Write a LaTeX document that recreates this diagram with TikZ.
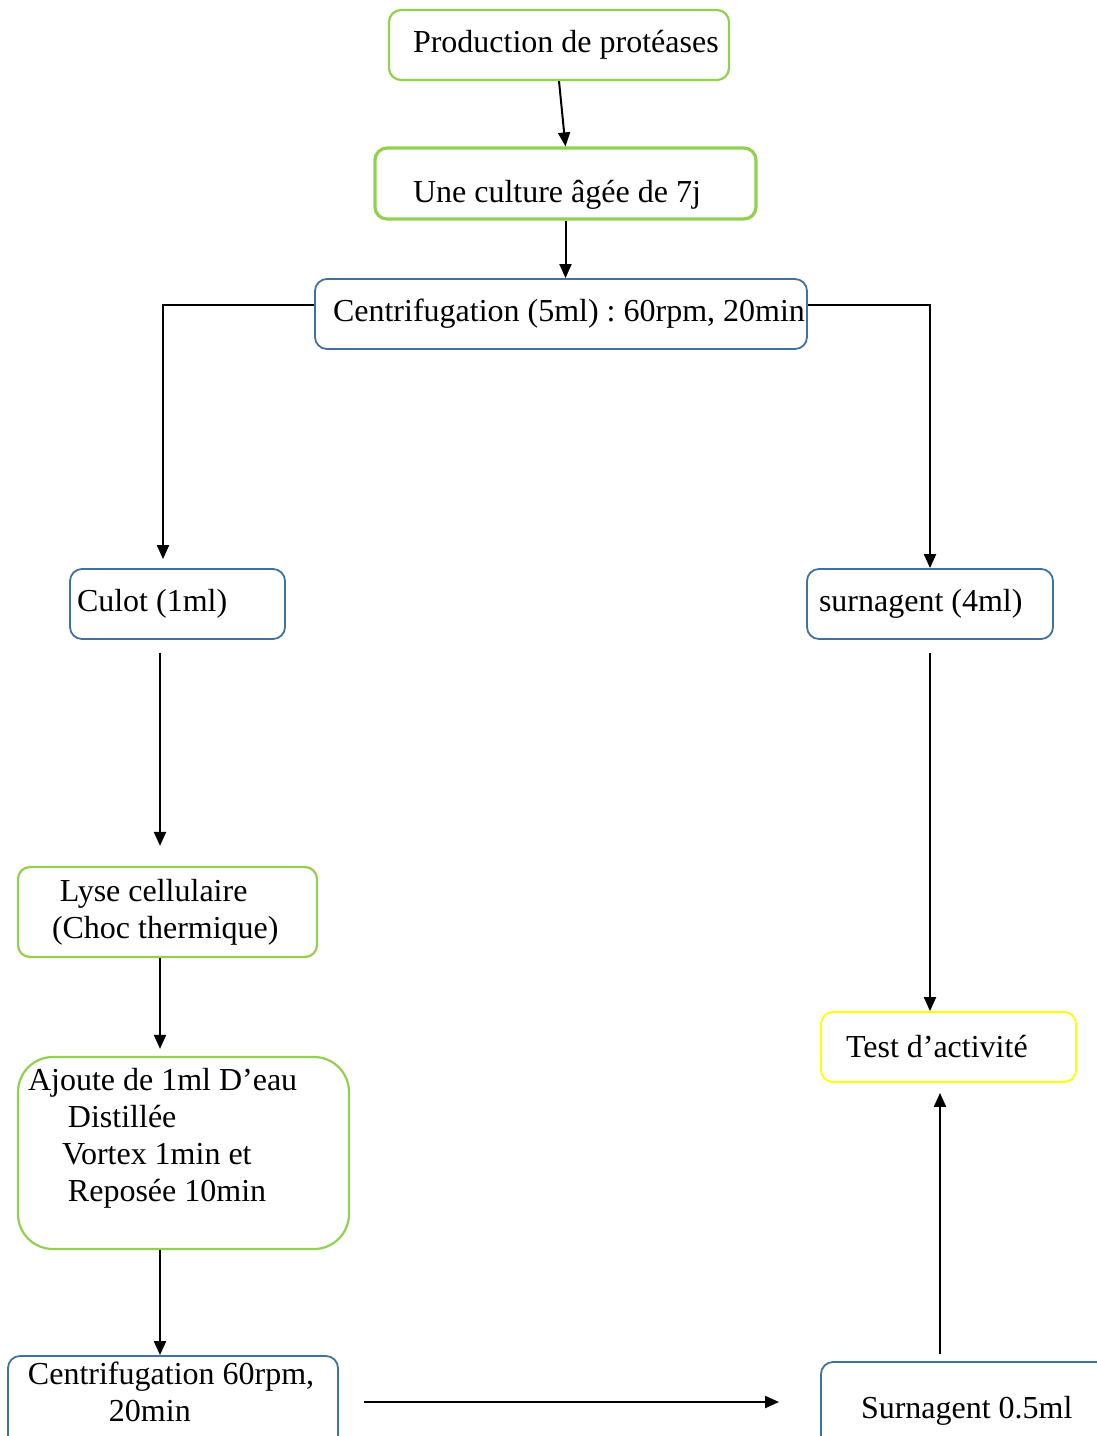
\documentclass[tikz,border=0pt]{standalone}
\usepackage{fontspec}
\setmainfont{Liberation Serif}
\usepackage{xcolor}
\usetikzlibrary{arrows.meta}
\definecolor{boxgreen}{HTML}{92D050}
\definecolor{boxblue}{HTML}{41719C}
\definecolor{boxyellow}{HTML}{FFFF00}

\begin{document}
\begin{tikzpicture}[x=1pt,y=-1pt,
  box/.style={draw, rounded corners=12pt, align=flush left, inner xsep=0pt, inner ysep=0pt,
    font=\fontsize{32}{37}\selectfont\frenchspacing},
  boxsize/.style 2 args={text width=#1pt, minimum height=#2pt},
  greenbox/.style={box, draw=boxgreen, line width=2.2pt},
  bluebox/.style={box, draw=boxblue, line width=1.8pt},
  yellowbox/.style={box, draw=boxyellow, line width=1.8pt},
  arr/.style={line width=2pt, -{Triangle[length=14pt,width=12pt]}}]
\useasboundingbox (0,0) rectangle (1097,1436);
\clip (0,0) rectangle (1097,1436);

\node[greenbox, boxsize={340}{70}] (prod) at (559,45) {\hspace*{24pt}Production de protéases};
\node[greenbox, line width=3.2pt, boxsize={381}{71}] (culture) at (565.5,183.5) {\rule{0pt}{44pt}\hspace*{38pt}Une culture âgée de 7j};
\node[bluebox, boxsize={492}{70}] (centri1) at (561,314) {\hspace*{18pt}Centrifugation (5ml) : 60rpm, 20min};
\node[bluebox, boxsize={215}{70}] (culot) at (177.5,604) {\hspace*{7pt}Culot (1ml)};
\node[bluebox, boxsize={246}{70}] (surn) at (930,604) {\hspace*{12pt}surnagent (4ml)};
\node[greenbox, boxsize={299}{90}] (lyse) at (167.5,912)
  {\hspace*{42pt}Lyse cellulaire\\ \hspace*{34pt}(Choc thermique)};
\node[greenbox, rounded corners=35pt, boxsize={331}{192}] (ajout) at (183.5,1153)
  {\hspace*{10pt}Ajoute de 1ml D’eau\\ \hspace*{50pt}Distillée\\ \hspace*{44pt}Vortex 1min et\\
   \hspace*{50pt}Reposée 10min\\ \mbox{}};
\node[bluebox, boxsize={330}{108}] (centri2) at (173,1410)
  {\hspace*{20pt}Centrifugation 60rpm,\\ \hspace*{101pt}20min\\ \mbox{}};
\node[yellowbox, boxsize={255}{70}] (test) at (948.5,1047) {\hspace*{25pt}Test d’activité};
\node[bluebox, boxsize={290}{98}] (surn05) at (966,1411) {\hspace*{40pt}Surnagent 0.5ml};

\draw[arr] (prod.south) -- (culture.north);
\draw[arr] (culture.south) -- (culture.south |- centri1.north);
\draw[arr, shorten >=9pt] ([yshift=9pt]centri1.west) -| ([xshift=-14.5pt]culot.north);
\draw[arr] ([yshift=9pt]centri1.east) -| (surn.north);
\draw[arr, shorten <=13pt, shorten >=20pt] ([xshift=-17.5pt]culot.south) -- ([xshift=-17.5pt]culot.south |- lyse.north);
\draw[arr, shorten >=7pt] ([xshift=-7.5pt]lyse.south) -- ([xshift=-7.5pt]lyse.south |- ajout.north);
\draw[arr] ([xshift=-23.5pt]ajout.south) -- ([xshift=-23.5pt]ajout.south |- centri2.north);
\draw[arr, shorten <=25pt, shorten >=41pt] ([yshift=8pt]centri2.east) -- ([yshift=8pt]centri2.east -| surn05.west);
\draw[arr, shorten <=13pt] (surn.south) -- (surn.south |- test.north);
\draw[arr, shorten <=7pt, shorten >=10pt] ([xshift=-8.5pt]test.south |- surn05.north) -- ([xshift=-8.5pt]test.south);
\end{tikzpicture}
\end{document}
